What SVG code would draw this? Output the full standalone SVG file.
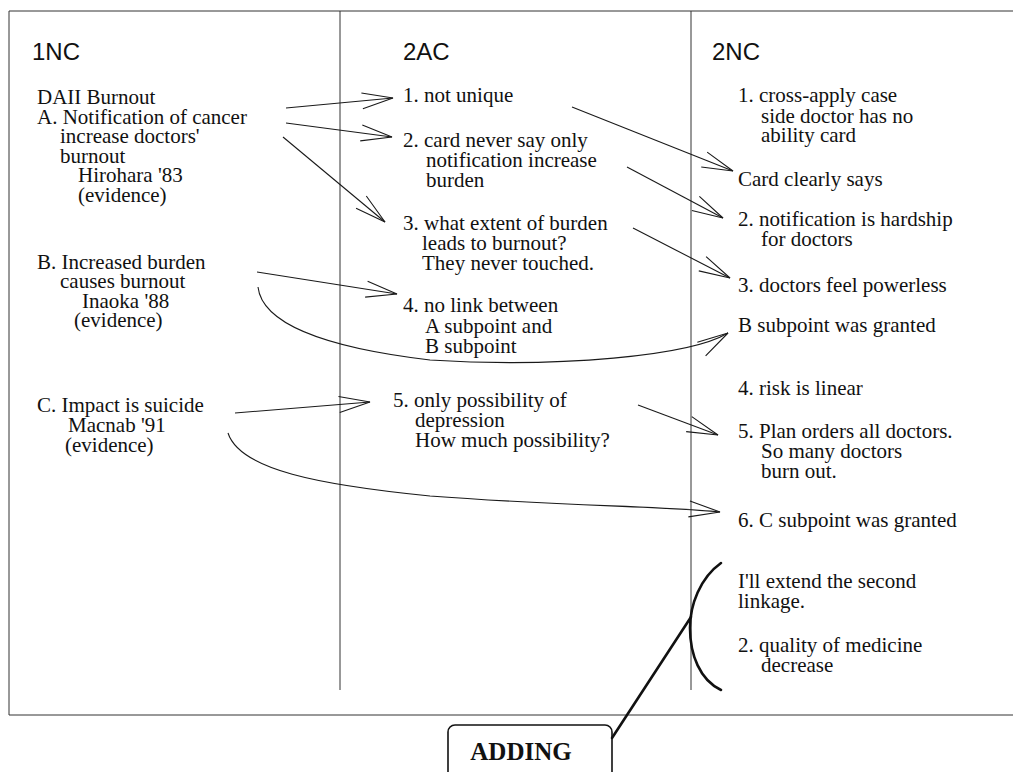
<svg xmlns="http://www.w3.org/2000/svg" width="1013" height="772" viewBox="0 0 1013 772">
<style>
.hd{font-family:"Liberation Sans",Arial,sans-serif;font-size:24px;fill:#111}
.tx{font-family:"Liberation Serif","Times New Roman",serif;font-size:21px;fill:#111}
.bd{font-family:"Liberation Serif","Times New Roman",serif;font-size:25px;font-weight:bold;fill:#111}
.fr{stroke:#333;stroke-width:1;fill:none}
.cn{stroke:#1a1a1a;stroke-width:1.1;fill:none;marker-end:url(#ah)}
.thick{stroke:#111;stroke-width:2.6;fill:none;stroke-linecap:round}
</style>
<defs>
<marker id="ah" markerUnits="userSpaceOnUse" viewBox="-36 -12 40 24" markerWidth="40" markerHeight="24" refX="0" refY="0" orient="auto" overflow="visible">
<path d="M-31,-8 L0,0 L-31,8" fill="none" stroke="#1a1a1a" stroke-width="1.1"/>
</marker>
</defs>
<rect width="1013" height="772" fill="#fff"/>
<g id="frame">
<path class="fr" d="M9,11 H1013 M9,11 V715 M9,715 H1013"/>
<path class="fr" d="M340,11 V690 M691,11 V690"/>
</g>
<g id="headers">
<text class="hd" x="32" y="60">1NC</text>
<text class="hd" x="403" y="60">2AC</text>
<text class="hd" x="712" y="60">2NC</text>
</g>
<g id="nc1-a">
<text class="tx"><tspan x="37" y="104">DAII Burnout</tspan><tspan x="37" y="124">A. Notification of cancer</tspan><tspan x="60" y="143">increase doctors'</tspan><tspan x="60" y="163">burnout</tspan><tspan x="78" y="182">Hirohara '83</tspan><tspan x="78" y="202">(evidence)</tspan></text>
</g>
<g id="nc1-b">
<text class="tx"><tspan x="37" y="269">B. Increased burden</tspan><tspan x="60" y="288">causes burnout</tspan><tspan x="82" y="308">Inaoka '88</tspan><tspan x="74" y="327">(evidence)</tspan></text>
</g>
<g id="nc1-c">
<text class="tx"><tspan x="37" y="412">C. Impact is suicide</tspan><tspan x="68" y="432">Macnab '91</tspan><tspan x="65" y="452">(evidence)</tspan></text>
</g>
<g id="ac2-1"><text class="tx" x="403" y="102">1. not unique</text></g>
<g id="ac2-2"><text class="tx"><tspan x="403" y="147">2. card never say only</tspan><tspan x="426" y="167">notification increase</tspan><tspan x="426" y="187">burden</tspan></text></g>
<g id="ac2-3"><text class="tx"><tspan x="403" y="230">3. what extent of burden</tspan><tspan x="422" y="250">leads to burnout?</tspan><tspan x="422" y="270">They never touched.</tspan></text></g>
<g id="ac2-4"><text class="tx"><tspan x="403" y="312">4. no link between</tspan><tspan x="425" y="333">A subpoint and</tspan><tspan x="425" y="353">B subpoint</tspan></text></g>
<g id="ac2-5"><text class="tx"><tspan x="393" y="407">5. only possibility of</tspan><tspan x="415" y="427">depression</tspan><tspan x="415" y="447">How much possibility?</tspan></text></g>
<g id="nc2-1"><text class="tx"><tspan x="738" y="102">1. cross-apply case</tspan><tspan x="761" y="123">side doctor has no</tspan><tspan x="761" y="142">ability card</tspan></text></g>
<g id="nc2-card"><text class="tx" x="738" y="186">Card clearly says</text></g>
<g id="nc2-2"><text class="tx"><tspan x="738" y="226">2. notification is hardship</tspan><tspan x="761" y="246">for doctors</tspan></text></g>
<g id="nc2-3"><text class="tx" x="738" y="292">3. doctors feel powerless</text></g>
<g id="nc2-b"><text class="tx" x="738" y="332">B subpoint was granted</text></g>
<g id="nc2-4"><text class="tx" x="738" y="395">4. risk is linear</text></g>
<g id="nc2-5"><text class="tx"><tspan x="738" y="438">5. Plan orders all doctors.</tspan><tspan x="761" y="458">So many doctors</tspan><tspan x="761" y="478">burn out.</tspan></text></g>
<g id="nc2-6"><text class="tx" x="738" y="527">6. C subpoint was granted</text></g>
<g id="nc2-ext">
<path class="thick" d="M721,563 C700,578 690,605 690,628 C690,655 700,680 721,690"/>
<text class="tx"><tspan x="738" y="588">I'll extend the second</tspan><tspan x="738" y="608">linkage.</tspan><tspan x="738" y="652">2. quality of medicine</tspan><tspan x="761" y="672">decrease</tspan></text>
</g>
<g id="adding">
<rect x="448" y="725" width="164" height="70" rx="7" fill="#fff" stroke="#111" stroke-width="1.6"/>
<text class="bd" x="521" y="760" text-anchor="middle">ADDING</text>
</g>
<g id="connectors">
<path class="cn" d="M286,108 L393,98"/>
<path class="cn" d="M286,123 L392,137"/>
<path class="cn" d="M283,137 L385,222"/>
<path class="cn" d="M257,272 L397,294"/>
<path class="cn" d="M258,287 C262,322 320,347 430,360 C560,368 690,356 728,333"/>
<path class="cn" d="M235,413 L370,402"/>
<path class="cn" d="M228,433 C240,470 320,485 430,496 C560,506 660,506 720,512"/>
<path class="cn" d="M572,107 L733,171"/>
<path class="cn" d="M627,167 L723,218"/>
<path class="cn" d="M633,228 L730,278"/>
<path class="cn" d="M638,405 L718,435"/>
<path class="thick" d="M612,738 L691,617"/>
</g>
</svg>
